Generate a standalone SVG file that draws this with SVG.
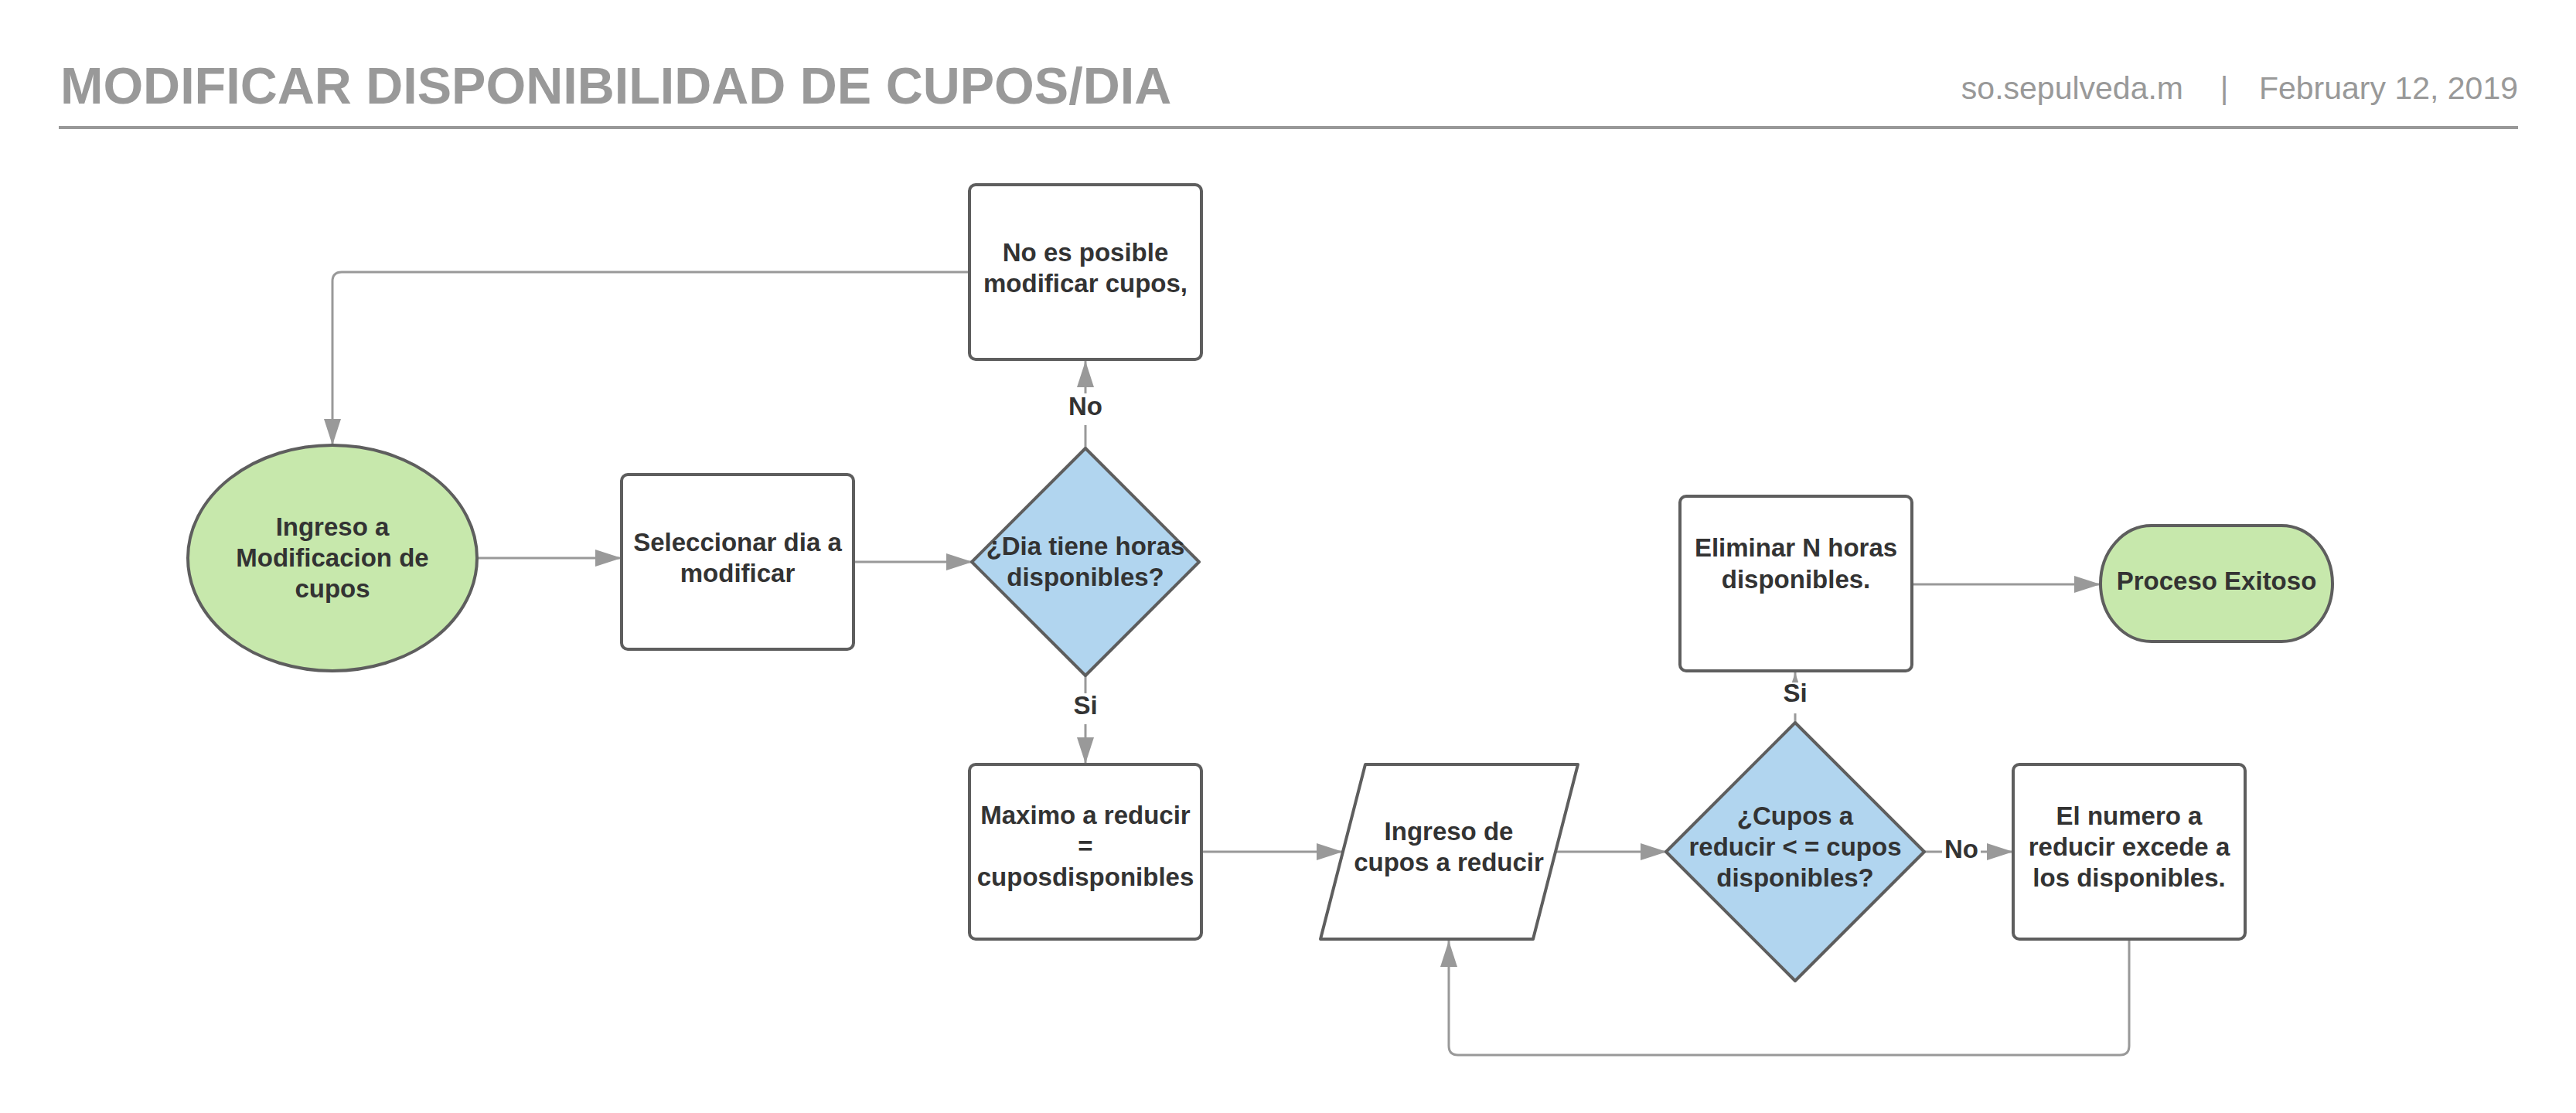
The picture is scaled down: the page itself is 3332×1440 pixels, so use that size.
<svg xmlns="http://www.w3.org/2000/svg" width="3332" height="1440" viewBox="0 0 3332 1440">
<style>
.node{stroke:#5e5e5e;stroke-width:4;stroke-linejoin:round}
.proc{fill:#ffffff}
.green{fill:#c7e8ac}
.blue{fill:#b1d5ef}
.t{font-family:"Liberation Sans",Arial,sans-serif;font-weight:bold;font-size:33px;fill:#333333;text-anchor:middle}
.lbl{font-family:"Liberation Sans",Arial,sans-serif;font-weight:bold;font-size:33px;fill:#333333;text-anchor:middle}
.conn{fill:none;stroke:#999999;stroke-width:3}
.hdr{font-family:"Liberation Sans",Arial,sans-serif;fill:#999999}
</style>
<defs>
<marker id="arr" markerUnits="userSpaceOnUse" markerWidth="36" markerHeight="24" refX="34" refY="11" orient="auto">
<path d="M0,0 L34,11 L0,22 z" fill="#999999"/>
</marker>
</defs>
<rect width="3332" height="1440" fill="#ffffff"/>
<g id="header">
<text x="78" y="134" class="hdr" font-size="66.5" font-weight="bold">MODIFICAR DISPONIBILIDAD DE CUPOS/DIA</text>
<text x="2824" y="128" class="hdr" font-size="41" text-anchor="end">so.sepulveda.m</text>
<text x="2877" y="128" class="hdr" font-size="41" text-anchor="middle">|</text>
<text x="3257" y="128" class="hdr" font-size="41" text-anchor="end">February 12, 2019</text>
<line x1="76" y1="165" x2="3257" y2="165" stroke="#999999" stroke-width="4"/>
</g>
<g id="connectors">
<path class="conn" d="M1254,352 H442 Q430,352 430,364 V576" marker-end="url(#arr)"/>
<path class="conn" d="M617,722 H804" marker-end="url(#arr)"/>
<path class="conn" d="M1104,727 H1258" marker-end="url(#arr)"/>
<path class="conn" d="M1404,580 V467" marker-end="url(#arr)"/>
<path class="conn" d="M1404,874 V988" marker-end="url(#arr)"/>
<path class="conn" d="M1554,1102 H1737" marker-end="url(#arr)"/>
<path class="conn" d="M2012,1102 H2156" marker-end="url(#arr)"/>
<path class="conn" d="M2489,1102 H2604" marker-end="url(#arr)"/>
<path class="conn" d="M2322,935 V870" marker-end="url(#arr)"/>
<path class="conn" d="M2473,756 H2717" marker-end="url(#arr)"/>
<path class="conn" d="M2754,1215 V1353 Q2754,1365 2742,1365 H1886 Q1874,1365 1874,1353 V1217" marker-end="url(#arr)"/>
<rect x="1380" y="509" width="48" height="41" fill="#ffffff"/>
<text x="1404" y="537" class="lbl">No</text>
<rect x="1384" y="897" width="40" height="40" fill="#ffffff"/>
<text x="1404" y="924" class="lbl">Si</text>
<rect x="2512" y="1082" width="50" height="40" fill="#ffffff"/>
<text x="2537" y="1110" class="lbl">No</text>
<rect x="2302" y="883" width="40" height="40" fill="#ffffff"/>
<text x="2322" y="908" class="lbl">Si</text>
</g>
<g id="n_ingreso">
<ellipse cx="430" cy="722" rx="187" ry="146" class="node green"/>
<text class="t"><tspan x="430" y="693">Ingreso a</tspan><tspan x="430" y="733">Modificacion de</tspan><tspan x="430" y="773">cupos</tspan></text>
</g>
<g id="n_seleccionar">
<rect x="804" y="614" width="300" height="226" rx="8" class="node proc"/>
<text class="t"><tspan x="954" y="713">Seleccionar dia a</tspan><tspan x="954" y="753">modificar</tspan></text>
</g>
<g id="n_dia">
<polygon points="1404,580 1551,727 1404,874 1257,727" class="node blue"/>
<text class="t"><tspan x="1404" y="718">¿Dia tiene horas</tspan><tspan x="1404" y="758">disponibles?</tspan></text>
</g>
<g id="n_noposible">
<rect x="1254" y="239" width="300" height="226" rx="8" class="node proc"/>
<text class="t"><tspan x="1404" y="338">No es posible</tspan><tspan x="1404" y="378">modificar cupos,</tspan></text>
</g>
<g id="n_maximo">
<rect x="1254" y="989" width="300" height="226" rx="8" class="node proc"/>
<text class="t"><tspan x="1404" y="1066">Maximo a reducir</tspan><tspan x="1404" y="1106">=</tspan><tspan x="1404" y="1146">cuposdisponibles</tspan></text>
</g>
<g id="n_ingresocupos">
<polygon points="1766,989 2041,989 1983,1215 1708,1215" class="node proc"/>
<text class="t"><tspan x="1874" y="1087">Ingreso de</tspan><tspan x="1874" y="1127">cupos a reducir</tspan></text>
</g>
<g id="n_cupos">
<polygon points="2322,935 2489,1102 2322,1269 2155,1102" class="node blue"/>
<text class="t"><tspan x="2322" y="1067">¿Cupos a</tspan><tspan x="2322" y="1107">reducir &lt; = cupos</tspan><tspan x="2322" y="1147">disponibles?</tspan></text>
</g>
<g id="n_excede">
<rect x="2604" y="989" width="300" height="226" rx="8" class="node proc"/>
<text class="t"><tspan x="2754" y="1067">El numero a</tspan><tspan x="2754" y="1107">reducir excede a</tspan><tspan x="2754" y="1147">los disponibles.</tspan></text>
</g>
<g id="n_eliminar">
<rect x="2173" y="642" width="300" height="226" rx="8" class="node proc"/>
<text class="t"><tspan x="2323" y="720">Eliminar N horas</tspan><tspan x="2323" y="761">disponibles.</tspan></text>
</g>
<g id="n_exitoso">
<rect x="2717" y="680" width="300" height="150" rx="66" ry="75" class="node green"/>
<text x="2867" y="763" class="t">Proceso Exitoso</text>
</g>
</svg>
